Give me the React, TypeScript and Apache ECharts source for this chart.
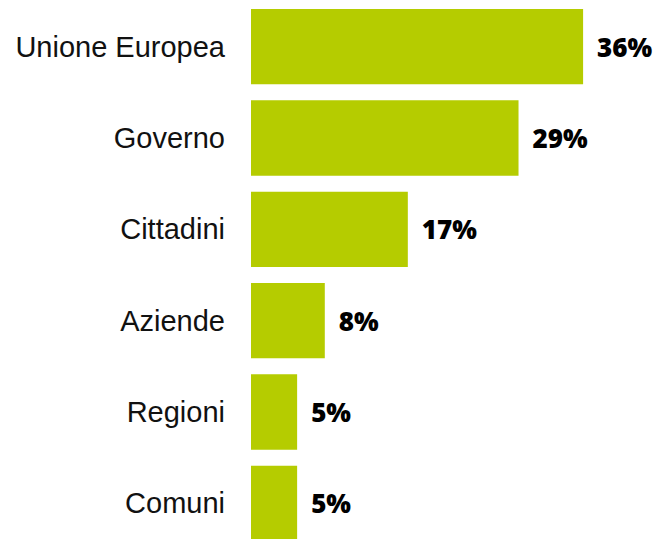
import React, { useEffect, useRef } from "react";
import * as echarts from "echarts";

const categories = ["Unione Europea", "Governo", "Cittadini", "Aziende", "Regioni", "Comuni"];
const values = [36, 29, 17, 8, 5, 5];

export default function App() {
  const ref = useRef<HTMLDivElement>(null);
  useEffect(() => {
    if (!ref.current) return;
    const chart = echarts.init(ref.current, null, { renderer: "svg" });
    chart.setOption({
      animation: false,
      backgroundColor: "#ffffff",
      grid: { left: 251, right: 38, top: 1, bottom: 0, containLabel: false },
      xAxis: {
        type: "value",
        min: 0,
        max: 40,
        show: false,
      },
      yAxis: {
        type: "category",
        data: categories,
        inverse: true,
        axisLine: { show: false },
        axisTick: { show: false },
        axisLabel: {
          margin: 26,
          fontFamily: "Liberation Sans, Arial, sans-serif",
          fontSize: 29,
          color: "#111111",
        },
      },
      series: [
        {
          type: "bar",
          data: values,
          barCategoryGap: "17.5%",
          itemStyle: { color: "#b5cc00" },
          label: {
            show: true,
            position: "right",
            distance: 14,
            formatter: "{c}%",
            fontFamily: "Open Sans, sans-serif",
            fontWeight: 800,
            fontSize: 26,
            color: "#000000",
          },
        },
      ],
    });
    return () => chart.dispose();
  }, []);
  return (
    <div style={{ position: "fixed", left: 0, top: 0, width: 658, height: 539, overflow: "hidden", background: "#fff" }}>
      <div ref={ref} style={{ width: 658, height: 549.4 }} />
    </div>
  );
}
